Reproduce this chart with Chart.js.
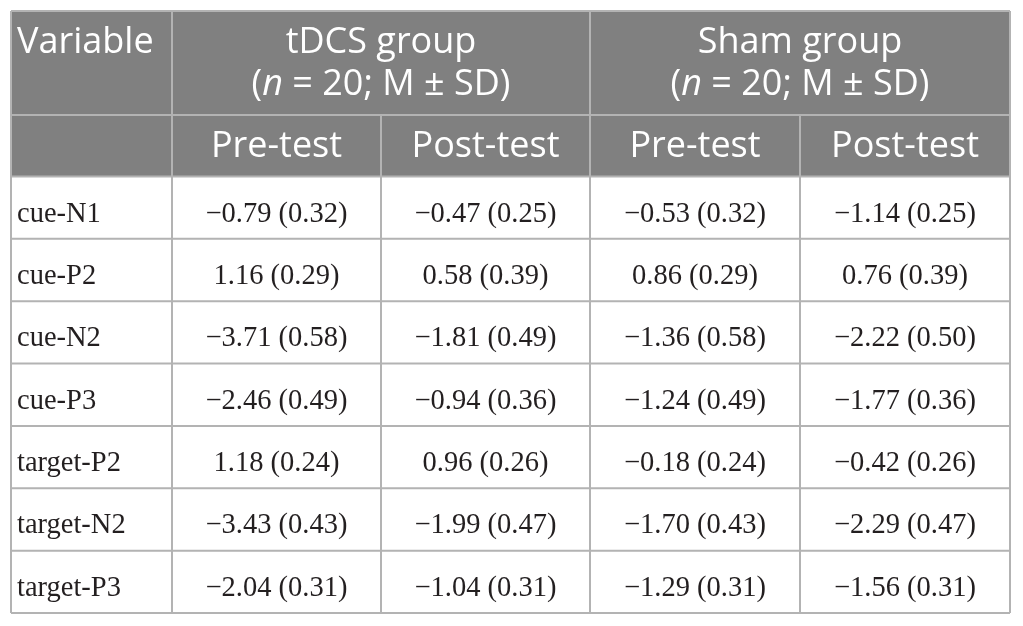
<!DOCTYPE html>
<html>
<head>
<meta charset="utf-8">
<script src="https://cdn.jsdelivr.net/npm/chart.js@4"></script>
<style>
html,body{margin:0;padding:0;background:#fff;}
#wrap{width:1023px;height:626px;}
</style>
</head>
<body>
<div id="wrap"><canvas id="c" width="1023" height="626"></canvas></div>
<script>
// ---- data ----
const variables = ['cue-N1','cue-P2','cue-N2','cue-P3','target-P2','target-N2','target-P3'];
const groupLabels = ['tDCS group','Sham group'];
const groupSubtitle = ['(', 'n', ' = 20; M \u00B1 SD)'];
const phaseLabels = ['Pre-test','Post-test'];
const varHeader = 'Variable';
const tdcsPreMean  = [-0.79, 1.16, -3.71, -2.46, 1.18, -3.43, -2.04];
const tdcsPreSD    = [0.32, 0.29, 0.58, 0.49, 0.24, 0.43, 0.31];
const tdcsPostMean = [-0.47, 0.58, -1.81, -0.94, 0.96, -1.99, -1.04];
const tdcsPostSD   = [0.25, 0.39, 0.49, 0.36, 0.26, 0.47, 0.31];
const shamPreMean  = [-0.53, 0.86, -1.36, -1.24, -0.18, -1.70, -1.29];
const shamPreSD    = [0.32, 0.29, 0.58, 0.49, 0.24, 0.43, 0.31];
const shamPostMean = [-1.14, 0.76, -2.22, -1.77, -0.42, -2.29, -1.56];
const shamPostSD   = [0.25, 0.39, 0.50, 0.36, 0.26, 0.47, 0.31];

const columnsMean = [tdcsPreMean, tdcsPostMean, shamPreMean, shamPostMean];
const columnsSD = [tdcsPreSD, tdcsPostSD, shamPreSD, shamPostSD];

// ---- layout (table geometry in scale units) ----
const colEdges = [0, 161, 370, 579, 789, 999];
const H1 = 104, H2 = 61.5, RH = (602 - H1 - H2) / variables.length;
const rowEdges = [0, H1, H1 + H2];
for (let i = 0; i < variables.length; i++) rowEdges.push(H1 + H2 + RH * (i + 1));

const HEAD_BG = '#808080';
const LINE = '#b3b3b3';
const SANS = '"Open Sans", "Noto Sans", sans-serif';
const SERIF = '"Liberation Serif", "DejaVu Serif", serif';

function fmt(v) {
  const s = Math.abs(v).toFixed(2);
  return (v < 0 ? '\u2212' : '') + s;
}

const tablePlugin = {
  id: 'tablePlugin',
  afterDraw(chart) {
    const ctx = chart.ctx;
    const xs = chart.scales.x, ys = chart.scales.y;
    const X = v => xs.getPixelForValue(v);
    const Y = v => ys.getPixelForValue(v);
    ctx.save();
    // header background
    ctx.fillStyle = HEAD_BG;
    ctx.fillRect(X(colEdges[0]), Y(rowEdges[0]), X(colEdges[5]) - X(colEdges[0]), Y(rowEdges[2]) - Y(rowEdges[0]));

    // header texts
    ctx.fillStyle = '#ffffff';
    ctx.font = '36px ' + SANS;
    ctx.textBaseline = 'alphabetic';
    ctx.textAlign = 'left';
    ctx.fillText(varHeader, X(colEdges[0]) + 6, Y(rowEdges[0]) + 42);
    for (let g = 0; g < 2; g++) {
      const cx = (X(colEdges[1 + g * 2]) + X(colEdges[3 + g * 2])) / 2;
      ctx.textAlign = 'center';
      ctx.font = '36px ' + SANS;
      ctx.fillText(groupLabels[g], cx, Y(rowEdges[0]) + 42);
      // subtitle with italic n
      const fonts = ['36px ' + SANS, 'italic 36px ' + SANS, '36px ' + SANS];
      let widths = groupSubtitle.map((t, i) => { ctx.font = fonts[i]; return ctx.measureText(t).width; });
      const total = widths.reduce((a, b) => a + b, 0);
      let x0 = cx - total / 2;
      ctx.textAlign = 'left';
      groupSubtitle.forEach((t, i) => { ctx.font = fonts[i]; ctx.fillText(t, x0, Y(rowEdges[0]) + 84); x0 += widths[i]; });
    }
    ctx.font = '36px ' + SANS;
    ctx.textAlign = 'center';
    for (let c = 0; c < 4; c++) {
      const cx = (X(colEdges[c + 1]) + X(colEdges[c + 2])) / 2;
      ctx.fillText(phaseLabels[c % 2], cx, Y(rowEdges[1]) + 42);
    }

    // body texts
    ctx.fillStyle = '#231f20';
    ctx.font = '28.5px ' + SERIF;
    for (let r = 0; r < variables.length; r++) {
      const by = Y(rowEdges[2 + r]) + 45;
      ctx.textAlign = 'left';
      ctx.fillText(variables[r], X(colEdges[0]) + 6, by);
      ctx.textAlign = 'center';
      for (let c = 0; c < 4; c++) {
        const cx = (X(colEdges[c + 1]) + X(colEdges[c + 2])) / 2;
        ctx.fillText(fmt(columnsMean[c][r]) + ' (' + columnsSD[c][r].toFixed(2) + ')', cx, by);
      }
    }

    // grid lines
    ctx.strokeStyle = LINE;
    ctx.lineWidth = 2;
    ctx.beginPath();
    // horizontal lines
    rowEdges.forEach(v => { ctx.moveTo(X(colEdges[0]), Y(v)); ctx.lineTo(X(colEdges[5]), Y(v)); });
    // vertical: outer and main dividers full height
    [0, 1, 3, 5].forEach(i => { ctx.moveTo(X(colEdges[i]), Y(rowEdges[0])); ctx.lineTo(X(colEdges[i]), Y(rowEdges[rowEdges.length - 1])); });
    // sub dividers below first header row
    [2, 4].forEach(i => { ctx.moveTo(X(colEdges[i]), Y(rowEdges[1])); ctx.lineTo(X(colEdges[i]), Y(rowEdges[rowEdges.length - 1])); });
    ctx.stroke();
    ctx.restore();
  }
};

function build() {
  new Chart(document.getElementById('c'), {
    type: 'scatter',
    data: {
      datasets: [{
        label: 'cells',
        data: [],
        pointRadius: 0
      }]
    },
    options: {
      responsive: false,
      animation: false,
      devicePixelRatio: 1,
      layout: { padding: { left: 11, top: 11, right: 13, bottom: 13 } },
      plugins: { legend: { display: false }, tooltip: { enabled: false } },
      scales: {
        x: { type: 'linear', min: colEdges[0], max: colEdges[5], display: false },
        y: { type: 'linear', min: 0, max: rowEdges[rowEdges.length - 1], reverse: true, display: false }
      }
    },
    plugins: [tablePlugin]
  });
}
Promise.all([
  document.fonts.load('36px "Open Sans"'),
  document.fonts.load('italic 36px "Open Sans"'),
  document.fonts.load('28px "Liberation Serif"')
]).then(build, build);
</script>
</body>
</html>
